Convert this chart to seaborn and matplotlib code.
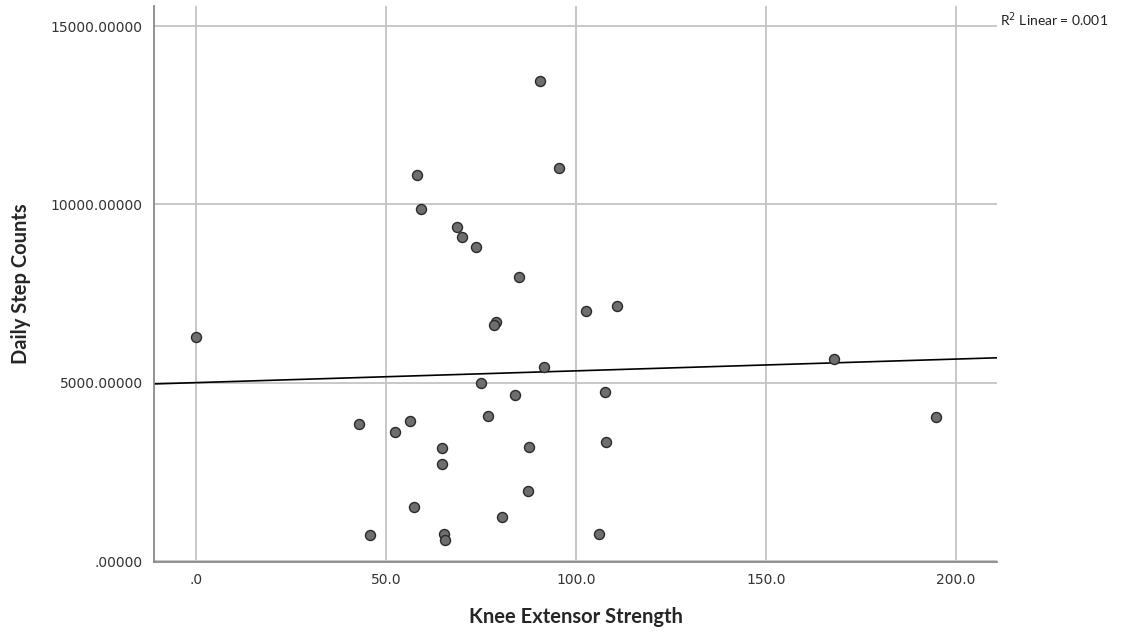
"""Scatter of knee extensor strength against daily step counts with linear fit."""
import matplotlib
matplotlib.use('Agg')
import matplotlib.pyplot as plt
import matplotlib.transforms as mtransforms
import pandas as pd
import seaborn as sns

# Values
knee_strength = [90.5, 95.5, 58.0, 59.0, 68.6, 70.0, 73.5, 84.8, 110.7, 102.6,
                 78.9, 78.4, 0.0, 167.8, 91.6, 74.9, 107.5, 83.9, 76.8, 194.6,
                 56.3, 42.7, 52.3, 107.7, 87.5, 64.7, 64.6, 87.2, 57.2, 80.5,
                 65.1, 106.0, 45.7, 65.5]
step_counts = [13450, 11010, 10815, 9860, 9363, 9082, 8820, 7959, 7160, 7020,
               6713, 6620, 6294, 5682, 5438, 5000, 4739, 4665, 4060, 4056,
               3929, 3845, 3631, 3343, 3212, 3184, 2728, 1965, 1527, 1248,
               773, 764, 745, 596]
x_ticks = [0, 50, 100, 150, 200]
x_tick_labels = ['.0', '50.0', '100.0', '150.0', '200.0']
y_ticks = [0, 5000, 10000, 15000]
y_tick_labels = ['.00000', '5000.00000', '10000.00000', '15000.00000']
r2_label = 'R$^2$ Linear = 0.001'

df = pd.DataFrame({'Knee Extensor Strength': knee_strength,
                   'Daily Step Counts': step_counts})

sns.set_style('white')
plt.rcParams['font.family'] = ['DejaVu Sans']

fig = plt.figure(figsize=(11.37, 6.34), dpi=100)
ax = fig.add_axes([0.1354, 0.1136, 0.7419, 0.8769])

# limits first so the fit line spans the full axis
ax.set_xlim(-11.2, 210.9)
ax.set_ylim(-20, 15560)

# grid behind the data
ax.set_axisbelow(True)
ax.grid(True, color='#c4c4c4', linewidth=1.3)

sns.regplot(data=df, x='Knee Extensor Strength', y='Daily Step Counts',
            ax=ax, ci=None, truncate=False,
            scatter_kws={'s': 52, 'color': '#6e6e6e', 'edgecolor': '#2a2a2a',
                         'linewidths': 1.0, 'alpha': 1, 'zorder': 3},
            line_kws={'color': 'black', 'linewidth': 1.2, 'zorder': 2})

ax.set_xticks(x_ticks)
ax.set_xticklabels(x_tick_labels)
ax.set_yticks(y_ticks)
ax.set_yticklabels(y_tick_labels)
ax.tick_params(axis='both', length=0, labelsize=10, labelcolor='#333333')
ax.tick_params(axis='x', pad=8)
ax.tick_params(axis='y', pad=8)

label_font = {'family': 'Lato', 'weight': 'bold', 'size': 14.5}
ax.set_xlabel('Knee Extensor Strength', fontdict=label_font, labelpad=14)
ax.set_ylabel('Daily Step Counts', fontdict=label_font, labelpad=14)

# SPSS-like frame: only left and bottom
for s in ['top', 'right']:
    ax.spines[s].set_visible(False)
for s in ['left', 'bottom']:
    ax.spines[s].set_color('#8a8a8a')
    ax.spines[s].set_linewidth(1.3)

# fit label sits just outside the plot, level with the top gridline
trans = mtransforms.blended_transform_factory(ax.transAxes, ax.transData)
ax.text(1.003, 15000, r2_label, transform=trans, ha='left', va='baseline',
        fontsize=10, family='Lato', color='#222222')

plt.savefig('out.png', dpi=100)
plt.close()
